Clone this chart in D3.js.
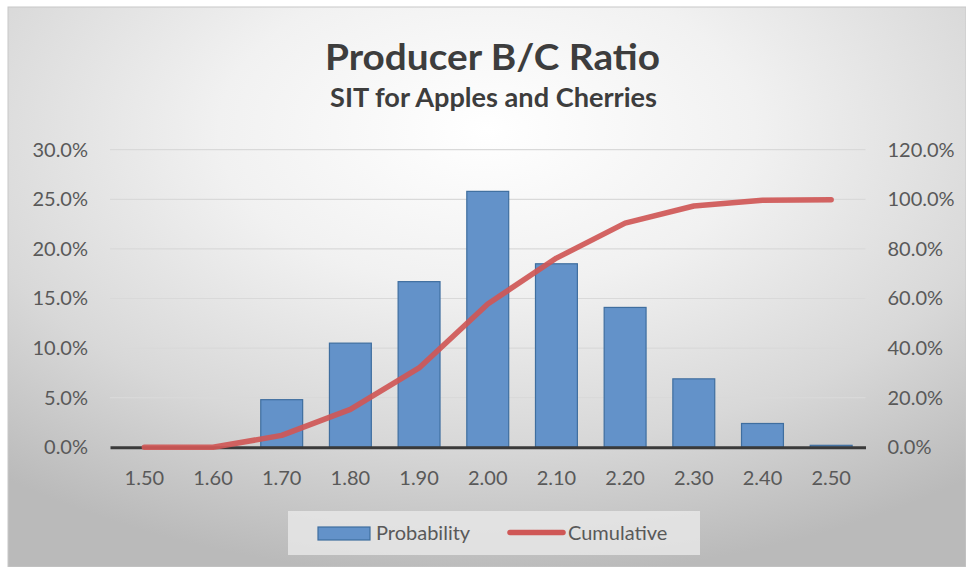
<!DOCTYPE html>
<html>
<head>
<meta charset="utf-8">
<script src="https://cdn.jsdelivr.net/npm/d3@7"></script>
<style>
  body { margin: 0; background: #fff; }
  svg { display: block; font-family: Lato, "Open Sans", sans-serif; }
</style>
</head>
<body>
<svg width="966" height="567"></svg>
<script>
const categories = ['1.50', '1.60', '1.70', '1.80', '1.90', '2.00', '2.10', '2.20', '2.30', '2.40', '2.50'];
const probability = [0, 0, 4.8, 10.5, 16.7, 25.8, 18.5, 14.1, 6.9, 2.4, 0.2];
const cumulative = [0, 0, 4.8, 15.3, 32.0, 57.8, 76.3, 90.4, 97.3, 99.6, 99.8];
const leftTicks = [0, 5, 10, 15, 20, 25, 30];
const rightTicks = [0, 20, 40, 60, 80, 100, 120];

const rows = categories.map((c, i) => ({ cat: c, p: probability[i], c: cumulative[i] }));

const W = 966, H = 567;
const plot = { left: 110, right: 865.5, top: 149.7, bottom: 447.3 };
const textColor = '#595959';

const svg = d3.select('svg');

// background panel with soft radial shading
const defs = svg.append('defs');
const grad = defs.append('radialGradient')
  .attr('id', 'bg')
  .attr('cx', '50%').attr('cy', '22%').attr('r', '80%');
grad.append('stop').attr('offset', '0%').attr('stop-color', '#ffffff');
grad.append('stop').attr('offset', '35%').attr('stop-color', '#f1f1f1');
grad.append('stop').attr('offset', '70%').attr('stop-color', '#d8d8d8');
grad.append('stop').attr('offset', '100%').attr('stop-color', '#bababa');

svg.append('rect')
  .attr('x', 8).attr('y', 7)
  .attr('width', W - 8).attr('height', H - 7)
  .attr('fill', 'url(#bg)')
  .attr('stroke', '#c8c8c8');

// scales
const x = d3.scaleBand()
  .domain(categories)
  .range([plot.left, plot.right])
  .paddingInner(0.39)
  .paddingOuter(0.195);
const yL = d3.scaleLinear().domain([0, 30]).range([plot.bottom, plot.top]);
const yR = d3.scaleLinear().domain([0, 120]).range([plot.bottom, plot.top]);

// gridlines
svg.append('g')
  .selectAll('line')
  .data(leftTicks.slice(1))
  .enter()
  .append('line')
  .attr('x1', plot.left).attr('x2', plot.right)
  .attr('y1', d => yL(d)).attr('y2', d => yL(d))
  .attr('stroke', '#d9d9d9')
  .attr('stroke-width', 1.2);

// left axis
const leftAxis = svg.append('g')
  .attr('transform', `translate(${plot.left},0)`)
  .call(d3.axisLeft(yL).tickValues(leftTicks).tickSize(0).tickPadding(22)
    .tickFormat(d => d.toFixed(1) + '%'));
leftAxis.select('.domain').remove();

// right axis
const rightAxis = svg.append('g')
  .attr('transform', `translate(${plot.right},0)`)
  .call(d3.axisRight(yR).tickValues(rightTicks).tickSize(0).tickPadding(22)
    .tickFormat(d => d.toFixed(1) + '%'));
rightAxis.select('.domain').remove();

// bars
svg.append('g')
  .selectAll('.bar')
  .data(rows)
  .enter()
  .append('rect')
  .attr('class', 'bar')
  .attr('x', d => x(d.cat))
  .attr('y', d => yL(d.p))
  .attr('width', x.bandwidth())
  .attr('height', d => plot.bottom - yL(d.p))
  .attr('fill', '#6392c9')
  .attr('stroke', '#3f6e9f')
  .attr('stroke-width', 1.2);

// x axis
const xAxis = svg.append('g')
  .attr('transform', `translate(0,${plot.bottom})`)
  .call(d3.axisBottom(x).tickSize(0).tickPadding(24).tickSizeOuter(0));
xAxis.select('.domain')
  .attr('stroke', '#3a3a3a')
  .attr('stroke-width', 3);

// cumulative line
const line = d3.line()
  .x(d => x(d.cat) + x.bandwidth() / 2)
  .y(d => yR(d.c));
svg.append('path')
  .datum(rows)
  .attr('d', line)
  .attr('fill', 'none')
  .attr('stroke', '#cf5756')
  .attr('stroke-opacity', 0.92)
  .attr('stroke-width', 5.5)
  .attr('stroke-linecap', 'round')
  .attr('stroke-linejoin', 'round');

svg.selectAll('.tick text')
  .attr('fill', textColor)
  .style('font-size', '20px')
  .style('font-family', 'Lato, "Open Sans", sans-serif');

// titles
svg.append('text')
  .attr('x', 492.5).attr('y', 70)
  .attr('text-anchor', 'middle')
  .attr('textLength', 335).attr('lengthAdjust', 'spacingAndGlyphs')
  .attr('fill', '#3d3d3d')
  .style('font-size', '37px').style('font-weight', 'bold')
  .text('Producer B/C Ratio');

svg.append('text')
  .attr('x', 493.5).attr('y', 107)
  .attr('text-anchor', 'middle')
  .attr('textLength', 327).attr('lengthAdjust', 'spacingAndGlyphs')
  .attr('fill', '#3d3d3d')
  .style('font-size', '26px').style('font-weight', 'bold')
  .text('SIT for Apples and Cherries');

// legend
const legend = svg.append('g');
legend.append('rect')
  .attr('x', 288).attr('y', 511)
  .attr('width', 412).attr('height', 44)
  .attr('fill', '#e6e6e6')
  .attr('fill-opacity', 0.85);
legend.append('rect')
  .attr('x', 318).attr('y', 527)
  .attr('width', 52).attr('height', 13)
  .attr('fill', '#6392c9')
  .attr('stroke', '#3f6e9f')
  .attr('stroke-width', 1.2);
legend.append('text')
  .attr('x', 376).attr('y', 540)
  .attr('fill', textColor)
  .style('font-size', '20px')
  .text('Probability');
legend.append('line')
  .attr('x1', 510).attr('x2', 563)
  .attr('y1', 532.5).attr('y2', 532.5)
  .attr('stroke', '#cf5756')
  .attr('stroke-width', 5.5)
  .attr('stroke-linecap', 'round');
legend.append('text')
  .attr('x', 568).attr('y', 540)
  .attr('fill', textColor)
  .style('font-size', '20px')
  .text('Cumulative');
</script>
</body>
</html>
